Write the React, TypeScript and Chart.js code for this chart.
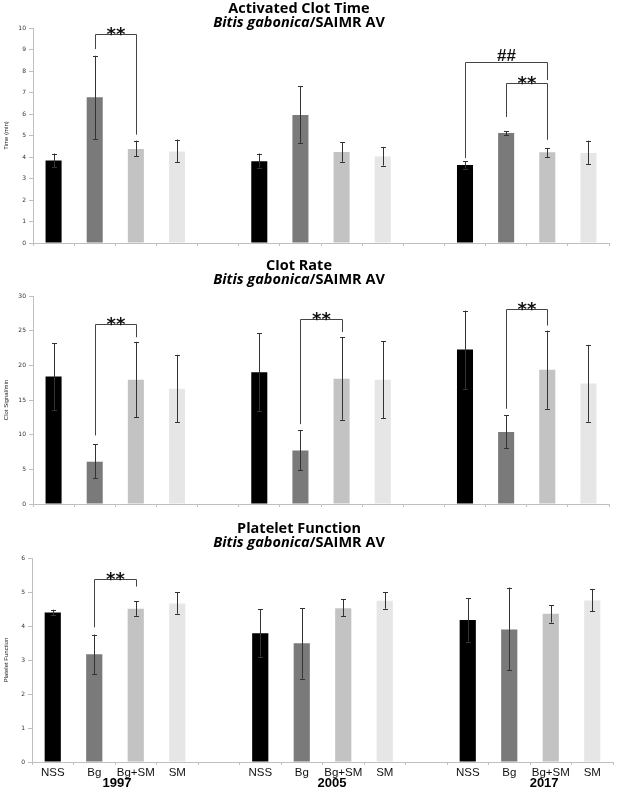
import React, { useEffect, useRef } from "react";
import { Chart, registerables } from "chart.js";

Chart.register(...registerables);

// ---------- data ----------
const GROUPS = ["NSS", "Bg", "Bg+SM", "SM"];
const YEARS = ["1997", "2005", "2017"];
const BAR_COLORS = ["#000000", "#7a7a7a", "#c3c3c3", "#e6e6e6"];

// Activated Clot Time (min): 1997 x4, 2005 x4, 2017 x4
const ACT_MEAN = [3.84, 6.78, 4.37, 4.26, 3.8, 5.95, 4.23, 4.02, 3.63, 5.12, 4.22, 4.19];
const ACT_LO = [3.53, 4.84, 4.03, 3.75, 3.5, 4.65, 3.78, 3.6, 3.46, 5.02, 4.0, 3.66];
const ACT_HI = [4.16, 8.71, 4.76, 4.81, 4.16, 7.29, 4.68, 4.47, 3.8, 5.19, 4.42, 4.76];

// Clot Rate (Clot Signal/min)
const CR_MEAN = [18.39, 6.1, 17.91, 16.61, 19.01, 7.73, 18.05, 17.91, 22.28, 10.37, 19.35, 17.38];
const CR_LO = [13.6, 3.74, 12.53, 11.81, 13.4, 4.85, 12.15, 12.34, 16.6, 8.07, 13.73, 11.86];
const CR_HI = [23.19, 8.64, 23.38, 21.51, 24.6, 10.61, 24.05, 23.48, 27.89, 12.77, 25.01, 22.95];

// Platelet Function
const PF_MEAN = [4.4, 3.17, 4.51, 4.66, 3.79, 3.49, 4.52, 4.74, 4.18, 3.9, 4.36, 4.75];
const PF_LO = [4.32, 2.59, 4.3, 4.36, 3.08, 2.45, 4.28, 4.51, 3.54, 2.7, 4.1, 4.44];
const PF_HI = [4.48, 3.75, 4.73, 5.0, 4.5, 4.53, 4.79, 4.99, 4.82, 5.13, 4.61, 5.09];

// significance brackets: [fromBar, toBar] as bar numbers 0..11, values in data units
const ACT_SIG = [
  { from: 1, to: 2, top: 9.74, leftEnd: 9.02, rightEnd: 5.04, text: "**" },
  { from: 8, to: 10, top: 8.42, leftEnd: 3.95, rightEnd: 7.58, text: "##" },
  { from: 9, to: 10, top: 7.44, leftEnd: 5.86, rightEnd: 4.8, text: "**" },
];
const CR_SIG = [
  { from: 1, to: 2, top: 25.97, leftEnd: 9.89, rightEnd: 24.05, text: "**" },
  { from: 5, to: 6, top: 26.69, leftEnd: 11.52, rightEnd: 24.8, text: "**" },
  { from: 9, to: 10, top: 28.13, leftEnd: 13.73, rightEnd: 25.73, text: "**" },
];
const PF_SIG = [{ from: 1, to: 2, top: 5.39, leftEnd: 3.96, rightEnd: 5.16, text: "**" }];

// ---------- helpers ----------
const slotOf = (bar: number) => bar + Math.floor(bar / 4); // a gap slot between years
const spread = (arr: (number | null)[]) => {
  const out: (number | null)[] = [];
  arr.forEach((v, i) => {
    out.push(v);
    if (i % 4 === 3 && i < arr.length - 1) out.push(null);
  });
  return out;
};
const makeLabels = (show: boolean) => {
  const out: string[] = [];
  YEARS.forEach((_, yi) => {
    GROUPS.forEach((g) => out.push(show ? g : ""));
    if (yi < YEARS.length - 1) out.push("");
  });
  return out;
};
const makeColors = () => spread(YEARS.flatMap(() => BAR_COLORS) as any) as any;

type PanelCfg = {
  title: string;
  yTitle: string;
  max: number;
  step: number;
  mean: number[];
  lo: number[];
  hi: number[];
  sig: { from: number; to: number; top: number; leftEnd: number; rightEnd: number; text: string }[];
  top: number;
  height: number;
  padTop: number;
  padRight: number;
  yWidth: number;
  xHeight: number;
  titleY: [number, number];
  showLabels: boolean;
};

const PANELS: PanelCfg[] = [
  {
    title: "Activated Clot Time", yTitle: "Time (min)", max: 10, step: 1,
    mean: ACT_MEAN, lo: ACT_LO, hi: ACT_HI, sig: ACT_SIG,
    top: 0, height: 260, padTop: 28, padRight: 8, yWidth: 33, xHeight: 17, titleY: [13, 27], showLabels: false,
  },
  {
    title: "Clot Rate", yTitle: "Clot Signal/min", max: 30, step: 5,
    mean: CR_MEAN, lo: CR_LO, hi: CR_HI, sig: CR_SIG,
    top: 260, height: 260, padTop: 36, padRight: 8, yWidth: 33, xHeight: 16, titleY: [10, 24], showLabels: false,
  },
  {
    title: "Platelet Function", yTitle: "Platelet Function", max: 6, step: 1,
    mean: PF_MEAN, lo: PF_LO, hi: PF_HI, sig: PF_SIG,
    top: 520, height: 273, padTop: 38, padRight: 4, yWidth: 32, xHeight: 31, titleY: [13, 27], showLabels: true,
  },
];

// fractional category positions where the year captions sit (under the bottom axis)
const YEAR_POS = [1.55, 6.73, 11.84];

function Panel({ cfg }: { cfg: PanelCfg }) {
  const ref = useRef<HTMLCanvasElement>(null);
  useEffect(() => {
    const canvas = ref.current!;
    const meanS = spread(cfg.mean);
    const loS = spread(cfg.lo);
    const hiS = spread(cfg.hi);

    const errorBars = {
      id: "errorBars",
      afterDatasetsDraw(chart: any) {
        const { ctx } = chart;
        const meta = chart.getDatasetMeta(0);
        const y = chart.scales.y;
        ctx.save();
        ctx.strokeStyle = "#333";
        ctx.lineWidth = 1;
        meta.data.forEach((el: any, i: number) => {
          if (meanS[i] == null) return;
          const x = Math.round(el.x) + 0.5;
          const yl = y.getPixelForValue(loS[i]);
          const yh = y.getPixelForValue(hiS[i]);
          ctx.beginPath();
          ctx.moveTo(x, yl);
          ctx.lineTo(x, yh);
          ctx.moveTo(x - 2.5, Math.round(yl) + 0.5);
          ctx.lineTo(x + 2.5, Math.round(yl) + 0.5);
          ctx.moveTo(x - 2.5, Math.round(yh) + 0.5);
          ctx.lineTo(x + 2.5, Math.round(yh) + 0.5);
          ctx.stroke();
        });
        ctx.restore();
      },
    };

    const brackets = {
      id: "brackets",
      afterDatasetsDraw(chart: any) {
        const { ctx } = chart;
        const xs = chart.scales.x;
        const ys = chart.scales.y;
        ctx.save();
        ctx.strokeStyle = "#444";
        ctx.fillStyle = "#111";
        ctx.lineWidth = 1;
        cfg.sig.forEach((s) => {
          const x1 = Math.round(xs.getPixelForValue(slotOf(s.from))) + 0.5;
          const x2 = Math.round(xs.getPixelForValue(slotOf(s.to))) + 0.5;
          const yt = Math.round(ys.getPixelForValue(s.top)) + 0.5;
          ctx.beginPath();
          ctx.moveTo(x1, ys.getPixelForValue(s.leftEnd));
          ctx.lineTo(x1, yt);
          ctx.lineTo(x2, yt);
          ctx.lineTo(x2, ys.getPixelForValue(s.rightEnd));
          ctx.stroke();
          ctx.textAlign = "center";
          if (s.text === "##") {
            ctx.font = "bold 17px 'Liberation Sans'";
            ctx.textBaseline = "alphabetic";
            ctx.fillText(s.text, (x1 + x2) / 2, yt - 1.5);
          } else {
            ctx.font = "bold 18px 'DejaVu Sans'";
            ctx.textBaseline = "alphabetic";
            ctx.fillText(s.text, (x1 + x2) / 2, yt + 5.5);
          }
        });
        ctx.restore();
      },
    };

    const titles = {
      id: "titles",
      afterDraw(chart: any) {
        const { ctx } = chart;
        const cx = 299;
        ctx.save();
        ctx.fillStyle = "#000";
        ctx.textBaseline = "alphabetic";
        ctx.textAlign = "center";
        ctx.font = "bold 14.5px 'Open Sans'";
        ctx.fillText(cfg.title, cx, cfg.titleY[0]);
        const a = "Bitis gabonica";
        const b = "/SAIMR AV";
        const fa = "italic bold 14.5px 'Open Sans'";
        const fb = "bold 14.5px 'Open Sans'";
        ctx.font = fa;
        const wa = ctx.measureText(a).width;
        ctx.font = fb;
        const wb = ctx.measureText(b).width;
        const x0 = cx - (wa + wb) / 2;
        ctx.textAlign = "left";
        ctx.font = fa;
        ctx.fillText(a, x0, cfg.titleY[1]);
        ctx.font = fb;
        ctx.fillText(b, x0 + wa, cfg.titleY[1]);

        if (cfg.showLabels) {
          const xs = chart.scales.x;
          ctx.font = "bold 13px 'Liberation Sans'";
          ctx.textAlign = "center";
          YEARS.forEach((yr, i) => {
            ctx.fillText(yr, xs.getPixelForValue(YEAR_POS[i]), 267);
          });
        }
        ctx.restore();
      },
    };

    const chart = new Chart(canvas, {
      type: "bar",
      data: {
        labels: makeLabels(cfg.showLabels),
        datasets: [
          {
            data: meanS,
            backgroundColor: makeColors(),
            borderWidth: 0,
            barPercentage: 0.39,
            categoryPercentage: 1,
          },
        ],
      },
      options: {
        responsive: false,
        animation: false,
        devicePixelRatio: 1,
        layout: { padding: { top: cfg.padTop, right: cfg.padRight, left: 0, bottom: 0 } },
        plugins: {
          legend: { display: false },
          tooltip: { enabled: false },
          title: { display: false },
        },
        scales: {
          x: {
            offset: true,
            grid: {
              display: true,
              drawOnChartArea: false,
              drawTicks: true,
              tickLength: 3,
              color: "#bfbfbf",
              offset: true,
            },
            border: { display: true, color: "#bfbfbf" },
            ticks: {
              autoSkip: false,
              maxRotation: 0,
              padding: 1,
              color: "#111",
              font: { family: "'Liberation Sans', Arial, sans-serif", size: 11.5 },
            },
            afterFit: (s: any) => {
              s.height = cfg.xHeight;
            },
          } as any,
          y: {
            min: 0,
            max: cfg.max,
            grid: { display: true, drawOnChartArea: false, drawTicks: true, tickLength: 4, color: "#bfbfbf" },
            border: { display: true, color: "#bfbfbf" },
            ticks: {
              stepSize: cfg.step,
              padding: 3,
              color: "#333",
              font: { family: "'DejaVu Sans', sans-serif", size: 6 },
            },
            title: {
              display: true,
              text: cfg.yTitle,
              color: "#222",
              padding: { top: 3, bottom: 0 },
              font: { family: "'Liberation Sans', Arial, sans-serif", size: 6 },
            },
            afterFit: (s: any) => {
              s.width = cfg.yWidth;
            },
          } as any,
        },
      },
      plugins: [errorBars, brackets, titles],
    });
    return () => chart.destroy();
  }, [cfg]);

  return (
    <canvas
      ref={ref}
      width={617}
      height={cfg.height}
      style={{ position: "absolute", left: 0, top: cfg.top, width: 617, height: cfg.height }}
    />
  );
}

export default function App() {
  return (
    <div
      style={{
        position: "absolute",
        left: 0,
        top: 0,
        width: 617,
        height: 793,
        background: "#fff",
        overflow: "hidden",
      }}
    >
      {PANELS.map((p, i) => (
        <Panel key={i} cfg={p} />
      ))}
    </div>
  );
}
